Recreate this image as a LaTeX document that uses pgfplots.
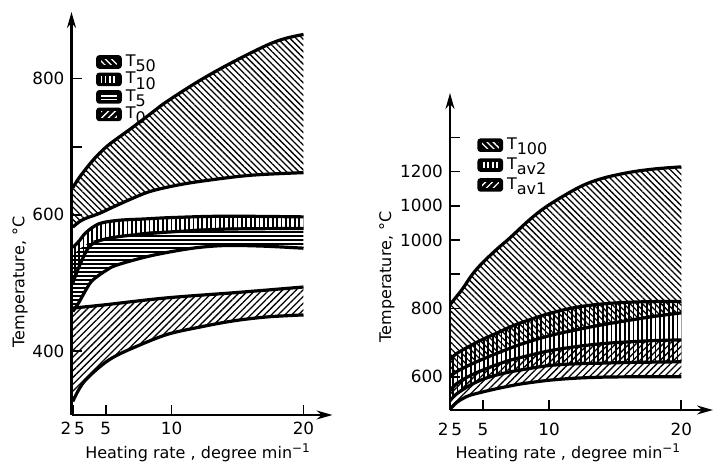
\documentclass[border=0pt]{standalone}
\usepackage{fontspec}
\setmainfont{DejaVu Sans}
\usepackage{pgfplots}
\pgfplotsset{compat=1.18}
\usepgfplotslibrary{fillbetween}
\usetikzlibrary{patterns.meta,arrows.meta}

\newcommand{\sub}[1]{\raisebox{-0.6ex}{#1}}

\tikzset{
  hNW/.style={pattern={Lines[angle=-45,distance=2.2pt,line width=0.65pt]}},
  hNE/.style={pattern={Lines[angle=45,distance=2.4pt,line width=0.65pt]}},
  hV/.style={pattern={Lines[angle=90,distance=2.2pt,line width=0.9pt]}},
  hH/.style={pattern={Lines[angle=0,distance=2pt,line width=0.65pt]}},
}
\newcommand{\legbox}[1]{%
  \addlegendimage{legend image code/.code={
    \draw[line width=0.8pt, fill=black, rounded corners=1.2pt] (0pt,-3pt) rectangle (12pt,3pt);
    \fill[#1, pattern color=white] (1.6pt,-1.9pt) rectangle (10.4pt,1.9pt);}}}

\pgfplotsset{
  panel/.style={
    scale only axis, anchor=south west,
    axis lines=left,
    axis line style={line width=1.1pt, -{Stealth[length=8pt,width=4.5pt]}},
    tick style={line width=0.8pt, black}, major tick length=5pt, tick align=inside,
    font=\fontsize{8}{9.6}\selectfont,
    tick label style={font=\fontsize{8.4}{10}\selectfont},
    /pgf/number format/assume math mode=true,
    xtick={2.5,5,10,20}, xticklabels={2\,5,5,10,20},
    xlabel={Heating rate , degree min\textsuperscript{−1}},
    ylabel={Temperature, °C},
    legend cell align=left,
    legend style={draw=none, fill=none, anchor=north west,
      font=\fontsize{8}{9}\selectfont},
  },
  bound/.style={line width=1.6pt, black, smooth, tension=0.55},
}

\begin{document}
\begin{tikzpicture}

% left panel
\begin{axis}[panel,
  at={(35.75pt,24.5pt)}, width=130.5pt, height=201.5pt,
  xmin=2.4, xmax=22.2, ymin=306, ymax=898,
  ytick={400,600,700,800}, yticklabels={400,600,,800},
  xlabel style={at={(axis description cs:0.485,-0.094)}, anchor=center},
  ylabel style={at={(axis description cs:-0.197,0.33)}, anchor=center},
  legend style={at={(axis description cs:0.07,0.915)}, row sep=-2.6pt},
]
\legbox{hNW}\addlegendentry{T\sub{50}}
\legbox{hV}\addlegendentry{T\sub{10}}
\legbox{hH}\addlegendentry{T\sub{5}}
\legbox{hNE}\addlegendentry{T\sub{0}}

\addplot[bound, name path=t50u, forget plot] coordinates {(2.5,640)(3,655)(3.8,675)(4.5,690)(5.3,704)(7,728)(8.5,750)(9.6,766)(12.1,797)(14.6,824)(17.2,849)(18.6,859)(20,865)};
\addplot[bound, name path=t50l, forget plot] coordinates {(2.5,582)(3,590)(3.5,595)(4.5,602)(5.5,611)(7,624)(8.3,634)(10,642)(12.1,649)(15.9,658)(20,662)};
\addplot[bound, name path=t10u, forget plot] coordinates {(2.5,552)(3,562)(3.5,574)(4.5,587)(6,592)(8,594)(10,596)(14,598)(20,597)};
\addplot[bound, name path=t10l, forget plot] coordinates {(2.5,500)(3,525)(3.7,552)(4.5,562)(6,568)(8,572)(10,575)(14,579)(20,580)};
\addplot[draw=none, name path=t5u, forget plot] coordinates {(2.5,540)(3,550)(4,562)(6,570)(8,575)(10,578)(14,581)(20,582)};
\addplot[bound, name path=t5l, forget plot] coordinates {(2.5,458)(2.95,471)(3.5,490)(4,504)(5,518)(5.8,526)(8,538)(10,546)(12,552)(14.2,555)(17,554)(20,551)};
\addplot[bound, name path=t0u, forget plot] coordinates {(2.5,463)(3,464)(5,468)(9.6,478)(15,486)(20,494)};
\addplot[bound, name path=t0l, forget plot] coordinates {(2.5,326)(3,345)(3.5,358)(4.5,376)(5.5,390)(7,404)(9.6,424)(12.1,435)(14.6,444)(17.2,450)(20,453)};

\addplot[hNW, forget plot] fill between[of=t50u and t50l];
\addplot[hV, forget plot] fill between[of=t10u and t10l];
\addplot[hH, forget plot] fill between[of=t5u and t5l];
\addplot[hNE, forget plot] fill between[of=t0u and t0l];
\end{axis}

% right panel
\begin{axis}[panel,
  at={(225pt,27pt)}, width=131.5pt, height=158.5pt,
  xmin=2.5, xmax=22.4, ymin=503, ymax=1430,
  ytick={600,800,900,1000,1100,1200,1300}, yticklabels={600,800,,1000,1000,1200,},
  xticklabel style={yshift=-3pt},
  xlabel style={at={(axis description cs:0.45,-0.136)}, anchor=center},
  ylabel style={at={(axis description cs:-0.24,0.42)}, anchor=center},
  legend style={at={(axis description cs:0.08,0.885)}, row sep=-1.4pt},
]
\legbox{hNW}\addlegendentry{T\sub{100}}
\legbox{hV}\addlegendentry{T\sub{av2}}
\legbox{hNE}\addlegendentry{T\sub{av1}}

\addplot[bound, name path=r100u, forget plot] coordinates {(2.5,811)(3,835)(3.5,860)(4.2,900)(5,935)(6.1,975)(7,1005)(8.6,1062)(10,1103)(12.3,1155)(14,1180)(16.1,1198)(18,1208)(20,1214)};
\addplot[bound, name path=r100l, forget plot] coordinates {(2.5,600)(3,615)(4,635)(5,652)(6,668)(7,683)(8,697)(10,720)(12,737)(14,752)(16,765)(18,777)(20,787)};
\addplot[bound, name path=rav2u, forget plot] coordinates {(2.5,650)(3,668)(4,690)(5,710)(6,727)(7,745)(8,760)(10,785)(12,803)(14,813)(16,818)(18,820)(20,820)};
\addplot[bound, name path=rav2l, forget plot] coordinates {(2.5,530)(3,550)(4,575)(5,593)(6,605)(7,614)(8,621)(10,633)(12,638)(14,640)(16,642)(18,643)(20,644)};
\addplot[bound, name path=rav1u, forget plot] coordinates {(2.5,560)(3,580)(4,603)(5,620)(6,635)(7,648)(8,658)(10,676)(12,688)(14,697)(16,702)(18,706)(20,708)};
\addplot[bound, name path=rav1l, forget plot] coordinates {(2.5,505)(3,525)(3.5,537)(4,546)(5,556)(6,565)(7,573)(8,580)(10,590)(12,596)(14,599)(16,600)(18,600)(20,600)};

\addplot[hNW, forget plot] fill between[of=r100u and r100l];
\addplot[hV, forget plot] fill between[of=rav2u and rav2l];
\addplot[hNE, forget plot] fill between[of=rav1u and rav1l];
\end{axis}

\pgfresetboundingbox
\useasboundingbox (0,0) rectangle (357pt,232pt);
\end{tikzpicture}
\end{document}
